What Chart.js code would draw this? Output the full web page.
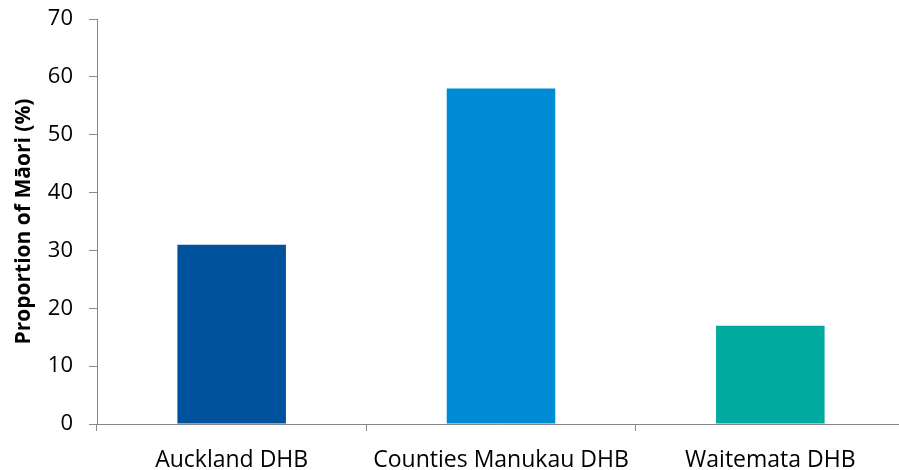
<!DOCTYPE html>
<html>
<head>
<meta charset="utf-8">
<script src="https://cdn.jsdelivr.net/npm/chart.js@4"></script>
<style>
    html, body { margin: 0; padding: 0; background: #fff; overflow: hidden; }
    /* the original plot runs a few pixels past the right edge of the image */
    #wrap { width: 905px; height: 470px; }
</style>
</head>
<body>
<div id="wrap"><canvas id="myChart"></canvas></div>
<script>
const categories = ['Auckland DHB', 'Counties Manukau DHB', 'Waitemata DHB'];
const maoriShare = [31, 58, 17];
const barColours = ['#00529C', '#008BD7', '#00AA9F'];
const yTicks = [0, 10, 20, 30, 40, 50, 60, 70];

const axisGrey = '#888888';
const fontFamily = "'Open Sans', 'Liberation Sans', sans-serif";

const ctx = document.getElementById('myChart').getContext('2d');
const myChart = new Chart(ctx, {
    type: 'bar',
    data: {
        labels: categories,
        datasets: [{
            data: maoriShare,
            backgroundColor: barColours,
            borderWidth: 0,
            categoryPercentage: 1,
            barPercentage: 0.403
        }]
    },
    options: {
        responsive: true,
        maintainAspectRatio: false,
        animation: false,
        layout: { padding: { top: 19, right: 0, left: 0, bottom: 0 } },
        plugins: {
            legend: { display: false },
            tooltip: { enabled: false }
        },
        scales: {
            x: {
                offset: true,
                grid: {
                    offset: true,
                    drawOnChartArea: false,
                    drawTicks: true,
                    tickLength: 7,
                    color: axisGrey
                },
                border: { color: axisGrey, width: 1 },
                ticks: {
                    color: '#000',
                    padding: 16,
                    maxRotation: 0,
                    font: { family: fontFamily, size: 23 }
                },
                afterFit: (scale) => {
                    scale.height = 46;
                    scale.paddingLeft = 0;
                    scale.paddingRight = 0;
                }
            },
            y: {
                min: 0,
                max: 70,
                afterBuildTicks: (scale) => {
                    scale.ticks = yTicks.map(v => ({ value: v }));
                },
                grid: {
                    drawOnChartArea: false,
                    drawTicks: true,
                    tickLength: 8,
                    color: axisGrey
                },
                border: { color: axisGrey, width: 1 },
                ticks: {
                    color: '#000',
                    padding: 16,
                    font: { family: fontFamily, size: 22 }
                },
                title: {
                    display: true,
                    text: 'Proportion of Māori (%)',
                    color: '#000',
                    padding: { top: 11, bottom: 0 },
                    font: { family: fontFamily, size: 21, weight: 'bold' }
                },
                afterFit: (scale) => {
                    scale.width = 97;
                    scale.paddingTop = 0;
                    scale.paddingBottom = 0;
                }
            }
        }
    }
});
</script>
</body>
</html>
